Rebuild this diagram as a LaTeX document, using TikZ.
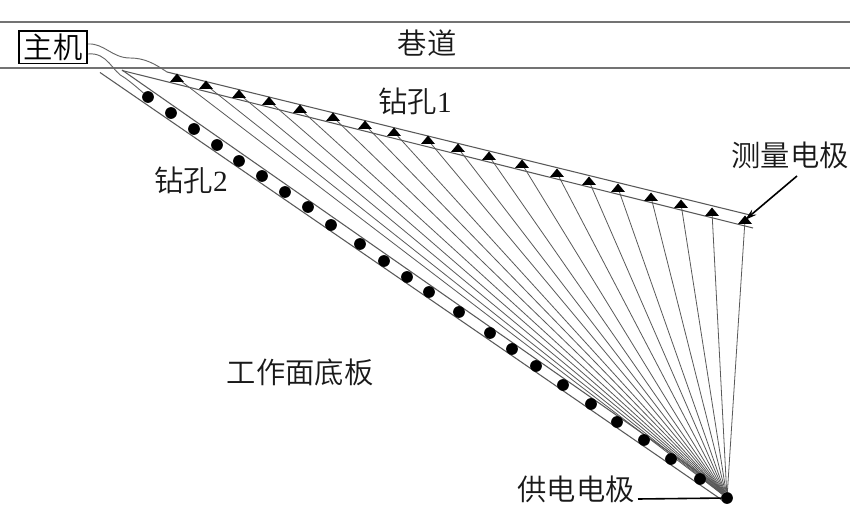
\documentclass[tikz,border=0pt]{standalone}
\usepackage{fontspec}
\setmainfont{Liberation Serif}
\newfontfamily\cjk{Noto Sans CJK SC DemiLight}
\usetikzlibrary{arrows.meta}
\tikzset{
  px/.style={x=0.75pt,y=-0.75pt},
  label/.style={font=\fontsize{22}{24}\selectfont\cjk,inner sep=0pt,text=black!90},
  level/.style={draw=black!55,line width=1pt},
  hole/.style={draw=black!65,line width=0.8pt},
  ray/.style={draw=black!65,line width=0.6pt},
  wire/.style={draw=black!60,line width=0.7pt},
  dotmark/.style={circle,fill=black,inner sep=0pt,minimum size=8.8pt},
  hostbox/.style={draw=black,line width=1pt,inner sep=0pt,minimum width=51pt,minimum height=24.5pt,font=\fontsize{22}{24}\selectfont\cjk},
  pointer/.style={draw=black,line width=1.2pt}
}
\begin{document}
\begin{tikzpicture}[px]
\useasboundingbox (0,0) rectangle (850,505);
% roadway levels
\coordinate (la) at (0,22); \coordinate (lb) at (850,22);
\coordinate (lc) at (0,68); \coordinate (ld) at (850,68);
\draw[level] (la)--(lb);
\draw[level] (lc)--(ld);
% labels and host
\node[hostbox] (host) at (53,47.5) {主机};
\node[label] (road) at (427,43) {巷道};
\node[label] (h1) at (415,101) {钻孔{\rmfamily 1}};
\node[label] (h2) at (191,180) {钻孔{\rmfamily 2}};
\node[label] (floor) at (300,372) {工作面底板};
\node[label] (meas) at (790,155) {测量电极};
\node[label] (sup) at (576,489) {供电电极};
% supply electrode
\node[dotmark] (src) at (727,498) {};
% hole 1
\coordinate (a1) at (167,72); \coordinate (a2) at (750,215);
\coordinate (b1) at (122,70.5); \coordinate (b2) at (753,228);
\draw[hole] (a1)--(a2);
\draw[hole] (b1)--(b2);
% hole 2
\coordinate (c1) at (122,70); \coordinate (c2) at (725,491);
\coordinate (d1) at (100,72.5); \coordinate (d2) at (722,500);
\draw[hole] (c1)--(c2);
\draw[hole] (d1)--(d2);
% rays and measuring electrodes
\foreach \i/\x/\y in {1/177/78,2/206/85,3/239/94,4/269/101,5/300/109,6/333/117,7/365/125,8/394/132,9/428/140,10/458/148,11/489/156,12/522/164,13/557/173,14/589/181,15/618/188,16/651/197,17/681/204,18/712/212,19/745/220}{
  \coordinate (t\i) at (\x,\y);
  \draw[ray] (t\i)--(src);
  \fill (\x-7,\y+4)--(\x+7,\y+4)--(\x,\y-4.5)--cycle;
}
% supply electrodes in hole 2
\foreach \i/\x/\y in {1/148/97,2/171/113,3/194/129,4/217/145,5/239/161,6/262/176,7/285/192,8/308/207,9/331/225,10/360/244,11/384/261,12/407/277,13/429/292,14/459/312,15/490/333,16/512/349,17/536/366,18/563/385,19/591/404,20/617/422,21/644/440,22/671/459,23/700/479}{
  \node[dotmark] (e\i) at (\x,\y) {};
}
% cables
\coordinate (w1) at (88,44);
\coordinate (w2) at (88,54);
\draw[wire] (w1) .. controls (104,43) and (112,58) .. (130,58)
   .. controls (145,58) and (155,64) .. (a1);
\draw[wire] (w2) .. controls (108,52) and (112,72) .. (125,78)
   .. controls (132,83) and (140,90) .. (e1);
% pointers
\coordinate (m1) at (797,176);
\coordinate (s1) at (638,499);
\draw[pointer,-{Stealth[length=9pt,width=5pt]}] (m1)--(t19);
\draw[pointer] (s1)--(src);
\end{tikzpicture}
\end{document}
